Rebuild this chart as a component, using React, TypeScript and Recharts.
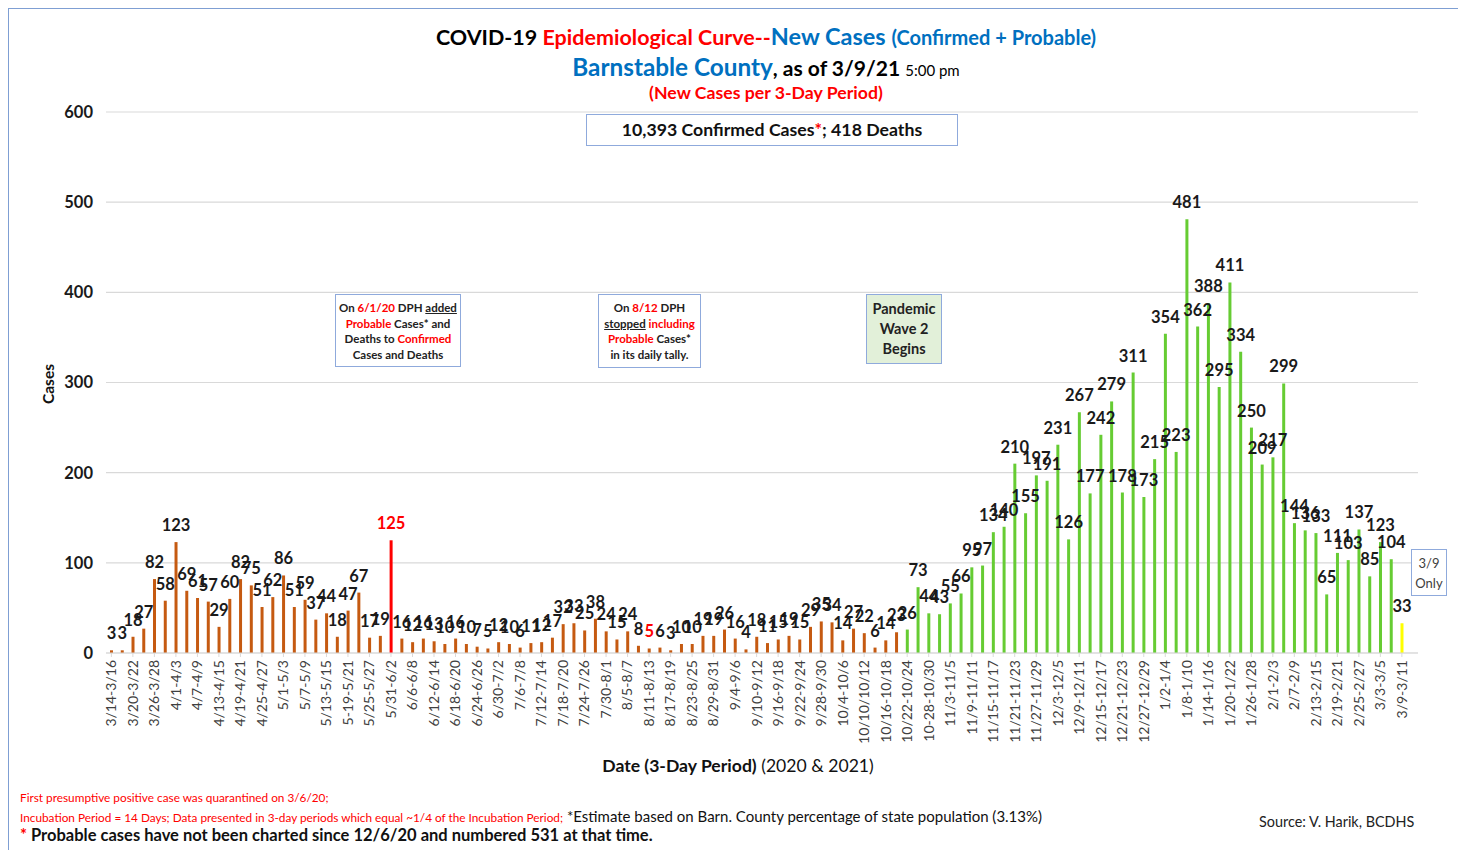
import { Bar, BarChart, CartesianGrid, Cell, LabelList, XAxis, YAxis } from "recharts";

// 3-day periods, 3/14/20 through 3/9/21
const PERIODS = [
  "3/14-3/16", "3/17-3/19", "3/20-3/22", "3/23-3/25", "3/26-3/28", "3/29-3/31", "4/1-4/3", "4/4-4/6",
  "4/7-4/9", "4/10-4/12", "4/13-4/15", "4/16-4/18", "4/19-4/21", "4/22-4/24", "4/25-4/27", "4/28-4/30",
  "5/1-5/3", "5/4-5/6", "5/7-5/9", "5/10-5/12", "5/13-5/15", "5/16-5/18", "5-19-5/21", "5/22-5/24",
  "5/25-5/27", "5/28-5/30", "5/31-6/2", "6/3-6/5", "6/6-6/8", "6/9-6/11", "6/12-6/14", "6/15-6/17",
  "6/18-6/20", "6/21-6/23", "6/24-6/26", "6/27-6/29", "6/30-7/2", "7/3-7/5", "7/6-7/8", "7/9-7/11",
  "7/12-7/14", "7/15-7/17", "7/18-7/20", "7/21-7/23", "7/24-7/26", "7/27-7/29", "7/30-8/1", "8/2-8/4",
  "8/5-8/7", "8/8-8/10", "8/11-8/13", "8/14-8/16", "8/17-8/19", "8/20-8/22", "8/23-8/25", "8/26-8/28",
  "8/29-8/31", "9/1-9/3", "9/4-9/6", "9/7-9/9", "9/10-9/12", "9/13-9/15", "9/16-9/18", "9/19-9/21",
  "9/22-9/24", "9/25-9/27", "9/28-9/30", "10/1-10/3", "10/4-10/6", "10/7-10/9", "10/10/10/12", "10/13-10/15",
  "10/16-10/18", "10/19-10/21", "10/22-10/24", "10/25-10/27", "10-28-10/30", "10/31-11/2", "11/3-11/5", "11/6-11/8",
  "11/9-11/11", "11/12-11/14", "11/15-11/17", "11/18-11/20", "11/21-11/23", "11/24-11/26", "11/27-11/29", "11/30-12/2",
  "12/3-12/5", "12/6-12/8", "12/9-12/11", "12/12-12/14", "12/15-12/17", "12/18-12/20", "12/21-12/23", "12/24-12/26",
  "12/27-12/29", "12/30-1/1", "1/2-1/4", "1/5-1/7", "1/8-1/10", "1/11-1/13", "1/14-1/16", "1/17-1/19",
  "1/20-1/22", "1/23-1/25", "1/26-1/28", "1/29-1/31", "2/1-2/3", "2/4-2/6", "2/7-2/9", "2/10-2/12",
  "2/13-2/15", "2/16-2/18", "2/19-2/21", "2/22-2/24", "2/25-2/27", "2/28-3/2", "3/3-3/5", "3/6-3/8",
  "3/9-3/11", "",
];

const NEW_CASES = [
  3, 3, 18, 27, 82, 58, 123, 69, 61, 57, 29, 60, 82, 75, 51, 62,
  86, 51, 59, 37, 44, 18, 47, 67, 17, 19, 125, 16, 12, 16, 13, 10,
  16, 10, 7, 5, 12, 10, 6, 11, 12, 17, 32, 33, 25, 38, 24, 15,
  24, 8, 5, 6, 3, 10, 10, 19, 19, 26, 16, 4, 18, 11, 15, 19,
  15, 29, 35, 34, 14, 27, 22, 6, 14, 23, 26, 73, 44, 43, 55, 66,
  95, 97, 134, 140, 210, 155, 197, 191, 231, 126, 267, 177, 242, 279, 178, 311,
  173, 215, 354, 223, 481, 362, 388, 295, 411, 334, 250, 209, 217, 299, 144, 136,
  133, 65, 111, 103, 137, 85, 123, 104, 33,
];

const Y_TICKS = [0, 100, 200, 300, 400, 500, 600];

const PROBABLE_ADDED_IDX = 26; // 5/31-6/2, red bar
const PROBABLE_STOPPED_IDX = 50; // 8/11-8/13, red label
const WAVE2_START_IDX = 74; // 10/22-10/24
const PARTIAL_IDX = 120; // 3/9 only

const FONT = "Lato, 'Open Sans', sans-serif";
const RED = "#FF0000";
const BLUE = "#0070C0";

const rows = PERIODS.map((p, i) => ({ period: p, cases: NEW_CASES[i] ?? null }));

function barColor(i: number) {
  if (i === PROBABLE_ADDED_IDX) return RED;
  if (i === PARTIAL_IDX) return "#FFFF00";
  if (i >= WAVE2_START_IDX) return "#66CC33";
  return "#C55A11";
}

function PeriodTick(props: any) {
  const { x, y, payload } = props;
  return (
    <text
      x={x}
      y={y}
      transform={`rotate(-90 ${x} ${y})`}
      textAnchor="end"
      dy="0.35em"
      fontSize={14}
      fontFamily={FONT}
      fill="#404040"
    >
      {payload.value}
    </text>
  );
}

function CaseLabel(props: any) {
  const vb = props.viewBox ?? {};
  const x = props.x ?? vb.x;
  const y = props.y ?? vb.y;
  const w = props.width ?? vb.width ?? 0;
  if (props.value == null) return null;
  const red = props.index === PROBABLE_ADDED_IDX || props.index === PROBABLE_STOPPED_IDX;
  return (
    <text
      x={x + w / 2}
      y={y - 11}
      textAnchor="middle"
      fontSize={16.5}
      fontWeight="bold"
      fontFamily={FONT}
      fill={red ? RED : "#1a1a1a"}
    >
      {props.value}
    </text>
  );
}

const box: React.CSSProperties = {
  position: "absolute",
  border: "1.5px solid #8FAADC",
  background: "#fff",
  boxSizing: "border-box",
  textAlign: "center",
  fontFamily: FONT,
  color: "#222",
};

export default function App() {
  return (
    <div
      style={{
        position: "relative",
        width: 1455,
        height: 850,
        border: "1px solid #7F9FD3",
        boxSizing: "border-box",
        fontFamily: FONT,
        background: "#fff",
      }}
    >
      <BarChart
        width={1440}
        height={842}
        data={rows}
        margin={{ top: 103, right: 31, bottom: 0, left: 0 }}
        barSize={3}
      >
        <CartesianGrid vertical={false} stroke="#d9d9d9" strokeWidth={1.2} />
        <XAxis
          dataKey="period"
          interval={1}
          height={198}
          tick={<PeriodTick />}
          tickSize={4}
          tickMargin={3}
          stroke="#d9d9d9"
          tickLine={{ stroke: "#d9d9d9" }}
        />
        <YAxis
          domain={[0, 600]}
          ticks={Y_TICKS}
          width={97}
          axisLine={false}
          tickLine={false}
          tickSize={0}
          tickMargin={13}
          tick={{ fontSize: 16.5, fontWeight: "bold", fill: "#1a1a1a", fontFamily: FONT }}
        />
        <Bar dataKey="cases" isAnimationActive={false}>
          {rows.map((_, i) => (
            <Cell key={i} fill={barColor(i)} />
          ))}
          <LabelList dataKey="cases" content={<CaseLabel />} />
        </Bar>
      </BarChart>

      {/* titles */}
      <div style={{ position: "absolute", left: 757, top: 13, transform: "translateX(-50%)", whiteSpace: "nowrap", fontWeight: "bold" }}>
        <span style={{ fontSize: 21.5, color: "#000" }}>COVID-19 </span>
        <span style={{ fontSize: 21.5, color: RED }}>Epidemiological Curve--</span>
        <span style={{ fontSize: 23.5, color: BLUE }}>New Cases </span>
        <span style={{ fontSize: 20, color: BLUE }}>(Confirmed + Probable)</span>
      </div>
      <div style={{ position: "absolute", left: 757, top: 43, transform: "translateX(-50%)", whiteSpace: "nowrap" }}>
        <span style={{ fontSize: 24.3, color: BLUE, fontWeight: "bold" }}>Barnstable County</span>
        <span style={{ fontSize: 21, color: "#000", fontWeight: "bold" }}>, as of 3/9/21 </span>
        <span style={{ fontSize: 15, color: "#000" }}>5:00 pm</span>
      </div>
      <div style={{ position: "absolute", left: 757, top: 73, transform: "translateX(-50%)", whiteSpace: "nowrap", fontWeight: "bold", fontSize: 17.7, color: RED }}>
        (New Cases per 3-Day Period)
      </div>

      <div style={{ ...box, left: 577, top: 105, width: 372, height: 32, fontSize: 17.7, fontWeight: "bold", lineHeight: "29px", color: "#111" }}>
        10,393 Confirmed Cases<span style={{ color: RED }}>*</span>; 418 Deaths
      </div>

      <div style={{ ...box, left: 326, top: 285, width: 126, height: 73, fontSize: 11.5, fontWeight: "bold", lineHeight: "15.5px", paddingTop: 5 }}>
        On <span style={{ color: RED }}>6/1/20</span> DPH <u>added</u>
        <br />
        <span style={{ color: RED }}>Probable</span> Cases* and
        <br />
        Deaths to <span style={{ color: RED }}>Confirmed</span>
        <br />
        Cases and Deaths
      </div>

      <div style={{ ...box, left: 589, top: 285, width: 103, height: 74, fontSize: 11.5, fontWeight: "bold", lineHeight: "15.5px", paddingTop: 5 }}>
        On <span style={{ color: RED }}>8/12</span> DPH
        <br />
        <u>stopped</u> <span style={{ color: RED }}>including</span>
        <br />
        <span style={{ color: RED }}>Probable</span> Cases*
        <br />
        in its daily tally.
      </div>

      <div style={{ ...box, left: 857, top: 285, width: 76, height: 70, background: "#E2F0D9", fontSize: 14.5, fontWeight: "bold", lineHeight: "20px", paddingTop: 4 }}>
        Pandemic
        <br />
        Wave 2
        <br />
        Begins
      </div>

      <div style={{ ...box, left: 1402, top: 540, width: 36, height: 47, fontSize: 13, lineHeight: "20px", paddingTop: 3, color: "#404040" }}>
        3/9
        <br />
        Only
      </div>

      {/* axis titles */}
      <div style={{ position: "absolute", left: 39, top: 375, transform: "translate(-50%, -50%) rotate(-90deg)", fontSize: 15.5, fontWeight: "bold", color: "#111" }}>
        Cases
      </div>
      <div style={{ position: "absolute", left: 729, top: 746, transform: "translateX(-50%)", whiteSpace: "nowrap", fontSize: 17.6, color: "#111" }}>
        <b>Date (3-Day Period)</b> (2020 &amp; 2021)
      </div>

      {/* footnotes */}
      <div style={{ position: "absolute", left: 11, top: 781, fontSize: 11.8, color: RED, whiteSpace: "nowrap" }}>
        First presumptive positive case was quarantined on 3/6/20;
      </div>
      <div style={{ position: "absolute", left: 11, top: 797, whiteSpace: "nowrap" }}>
        <span style={{ fontSize: 11.8, color: RED }}>
          Incubation Period = 14 Days; Data presented in 3-day periods which equal ~1/4 of the Incubation Period;
        </span>
        <span style={{ fontSize: 15, color: "#111" }}> *Estimate based on Barn. County percentage of state population (3.13%)</span>
      </div>
      <div style={{ position: "absolute", left: 11, top: 816, whiteSpace: "nowrap", fontSize: 16.5, fontWeight: "bold", color: "#111" }}>
        <span style={{ color: RED }}>*</span> Probable cases have not been charted since 12/6/20 and numbered 531 at that time.
      </div>
      <div style={{ position: "absolute", left: 1250, top: 804, whiteSpace: "nowrap", fontSize: 14.4, color: "#222" }}>
        Source: V. Harik, BCDHS
      </div>
    </div>
  );
}
